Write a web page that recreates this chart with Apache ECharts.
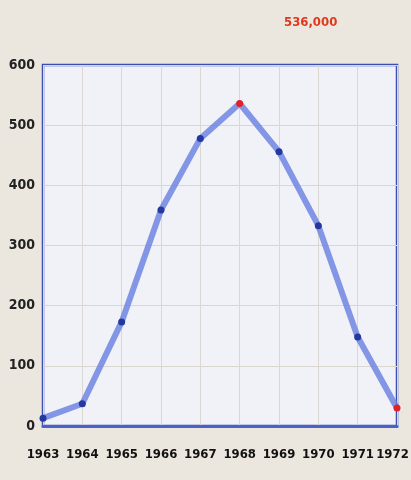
<!DOCTYPE html>
<html><head><meta charset="utf-8">
<script src="https://cdn.jsdelivr.net/npm/echarts@6/dist/echarts.min.js"></script>
<style>html,body{margin:0;padding:0;background:#ebe7df;}#c{width:411px;height:480px;}</style>
</head><body><div id="c"></div>
<script>
const years = ['1963','1964','1965','1966','1967','1968','1969','1970','1971','1972'];
const values = [13, 37, 173, 359, 478, 536, 456, 333, 148, 30];
const redYears = ['1968','1972'];
const peakLabel = '536,000';
const yTicks = [0, 100, 200, 300, 400, 500, 600];

const chart = echarts.init(document.getElementById('c'));
const font = '"DejaVu Sans Condensed", "Liberation Sans Narrow", sans-serif';
const lab = {color: '#111', fontFamily: font, fontWeight: 'bold', fontSize: 13};
chart.setOption({
  backgroundColor: '#ebe7df',
  title: {
    text: peakLabel, left: 279, top: 11,
    textStyle: {color: '#e0381c', fontFamily: font, fontWeight: 'bold', fontSize: 13}
  },
  grid: {left: 43, right: 14, top: 65, bottom: 54, show: true,
    outerBoundsMode: 'none', containLabel: false,
    backgroundColor: '#f0f2f8', borderColor: '#3a4db0', borderWidth: 2.5},
  xAxis: {
    type: 'category', data: years, boundaryGap: false,
    axisLine: {show: true, lineStyle: {color: '#4a62c8', width: 3}},
    axisTick: {show: false},
    axisLabel: Object.assign({}, lab, {margin: 22, interval: 0, hideOverlap: false,
      formatter: v => v === years[years.length - 1] ? '{last|' + v + '}' : v,
      rich: {last: Object.assign({}, lab, {padding: [0, 9, 0, 0]})}}),
    splitLine: {show: true, lineStyle: {color: '#dad8d0', width: 1}}
  },
  yAxis: {
    type: 'value', min: yTicks[0], max: yTicks[yTicks.length-1], interval: 100,
    axisLine: {show: false}, axisTick: {show: false},
    axisLabel: {color: '#222', fontFamily: font, fontWeight: 'bold', fontSize: 14, margin: 8},
    splitLine: {show: true, lineStyle: {color: '#dad8ce', width: 1}}
  },
  series: [{
    type: 'line',
    data: values.map((v, i) => redYears.includes(years[i])
      ? {value: v, itemStyle: {color: '#e0202a'}} : v),
    symbol: 'circle', symbolSize: 7,
    itemStyle: {color: '#2438a0'},
    lineStyle: {color: 'rgba(104,126,224,0.8)', width: 6},
    z: 5
  }]
});
</script></body></html>
